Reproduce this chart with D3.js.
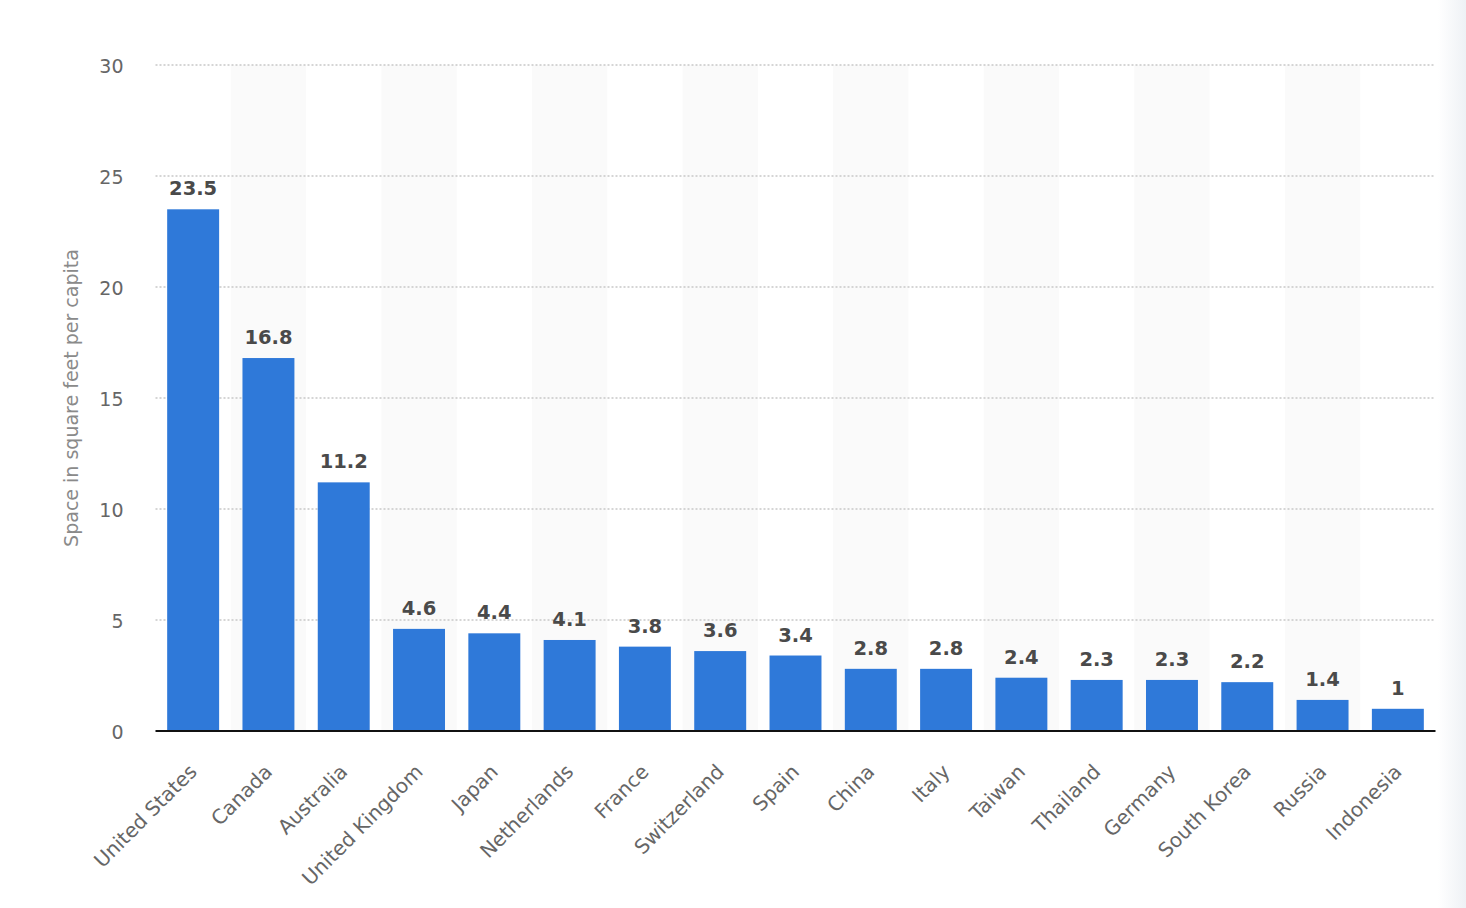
<!DOCTYPE html>
<html lang="en">
<head>
    <meta charset="utf-8">
    <title>Space per capita</title>
    <script src="https://cdn.jsdelivr.net/npm/d3@7"></script>
    <style type="text/css">
        body {
            margin: 0;
            background: #fff;
        }
        .tick-label {
            font: 19px "DejaVu Sans", sans-serif;
            fill: #666;
        }
        .cat-label {
            font: 20px "DejaVu Sans", sans-serif;
            fill: #666;
        }
        .value-label {
            font: bold 19.5px "DejaVu Sans", sans-serif;
            fill: #4a4a4a;
        }
        .axis-title {
            font: 19px "DejaVu Sans", sans-serif;
            fill: #8a8a8a;
        }
        .bar {
            fill: #2f79d9;
        }
    </style>
</head>
<body>
<div id="chart"></div>

<script>
// data
const countries = ["United States", "Canada", "Australia", "United Kingdom", "Japan",
    "Netherlands", "France", "Switzerland", "Spain", "China", "Italy", "Taiwan",
    "Thailand", "Germany", "South Korea", "Russia", "Indonesia"];
const spacePerCapita = [23.5, 16.8, 11.2, 4.6, 4.4, 4.1, 3.8, 3.6, 3.4, 2.8, 2.8, 2.4,
    2.3, 2.3, 2.2, 1.4, 1];
const yTicks = [0, 5, 10, 15, 20, 25, 30];
const yTitle = "Space in square feet per capita";

const W = 1466, H = 908;
const plot = {left: 155.5, right: 1435.5, top: 65, bottom: 731};

const data = countries.map((c, i) => ({name: c, value: spacePerCapita[i]}));

const svg = d3.select("#chart").append("svg")
    .attr("width", W)
    .attr("height", H);

// right side shade
const grad = svg.append("defs").append("linearGradient")
    .attr("id", "shade")
    .attr("x1", "0").attr("x2", "1");
grad.append("stop").attr("offset", "0").attr("stop-color", "#fff");
grad.append("stop").attr("offset", "1").attr("stop-color", "#eef1f5");
svg.append("rect")
    .attr("x", 1438).attr("y", 0)
    .attr("width", W - 1438).attr("height", H)
    .attr("fill", "url(#shade)");

const x = d3.scaleBand()
    .domain(countries)
    .range([plot.left, plot.right])
    .paddingInner(0.31)
    .paddingOuter(0.155);
const y = d3.scaleLinear()
    .domain([0, 30])
    .range([plot.bottom, plot.top]);

// alternating column stripes
svg.append("g").selectAll("rect")
    .data(countries.filter((c, i) => i % 2 === 1))
    .enter().append("rect")
    .attr("x", d => x(d) - x.step() * x.paddingInner() / 2)
    .attr("y", plot.top)
    .attr("width", x.step())
    .attr("height", plot.bottom - plot.top)
    .attr("fill", "#fafafa");

// gridlines
svg.append("g").selectAll("line")
    .data(yTicks.filter(t => t > 0))
    .enter().append("line")
    .attr("x1", plot.left).attr("x2", plot.right - 1)
    .attr("y1", d => y(d)).attr("y2", d => y(d))
    .attr("stroke", "#c8c8c8")
    .attr("stroke-width", 1.5)
    .attr("stroke-dasharray", "2,2");

// y axis labels
const yAxis = svg.append("g")
    .attr("transform", "translate(" + plot.left + ",0)")
    .call(d3.axisLeft(y).tickValues(yTicks).tickSize(0).tickPadding(32));
yAxis.select(".domain").remove();
yAxis.selectAll("text")
    .attr("class", "tick-label")
    .attr("fill", null)
    .attr("dy", "0.4em");
yAxis.attr("font-family", null).attr("font-size", null);

svg.append("text")
    .attr("class", "axis-title")
    .attr("transform", "translate(78," + (plot.top + plot.bottom) / 2 + ") rotate(-90)")
    .attr("text-anchor", "middle")
    .text(yTitle);

// bars
svg.append("g").selectAll(".bar")
    .data(data)
    .enter().append("rect")
    .attr("class", "bar")
    .attr("x", d => x(d.name))
    .attr("width", x.bandwidth())
    .attr("y", d => y(d.value))
    .attr("height", d => plot.bottom - y(d.value));

// value labels
svg.append("g").selectAll("text")
    .data(data)
    .enter().append("text")
    .attr("class", "value-label")
    .attr("text-anchor", "middle")
    .attr("x", d => x(d.name) + x.bandwidth() / 2)
    .attr("y", d => y(d.value) - 14)
    .text(d => String(d.value));

// baseline
svg.append("line")
    .attr("x1", plot.left).attr("x2", plot.right)
    .attr("y1", plot.bottom).attr("y2", plot.bottom)
    .attr("stroke", "#111")
    .attr("stroke-width", 2);

// category labels
svg.append("g").selectAll("text")
    .data(countries)
    .enter().append("text")
    .attr("class", "cat-label")
    .attr("text-anchor", "end")
    .attr("transform", d => {
        const cx = x(d) + x.bandwidth() / 2 + 5;
        return "translate(" + cx + ",773) rotate(-45)";
    })
    .text(d => d);
</script>
</body>
</html>
